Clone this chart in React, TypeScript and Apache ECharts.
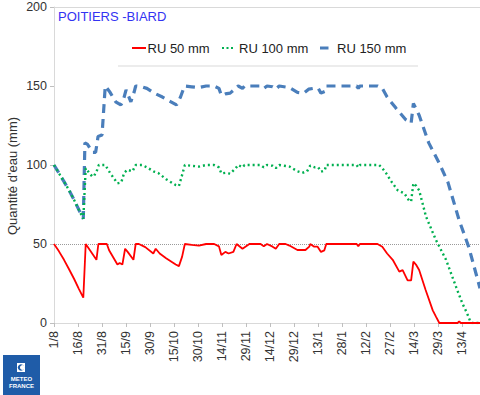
import React, { useEffect, useRef } from "react";
import * as echarts from "echarts";

const tickLabels = ["1/8","16/8","31/8","15/9","30/9","15/10","30/10","14/11","29/11","14/12","29/12","13/1","28/1","12/2","27/2","14/3","29/3","13/4"];
const seriesNames = ["RU 50 mm", "RU 100 mm", "RU 150 mm"];

const redDays = [0,3,6.25,9.4,12.5,15.6,18.3,19.8,26.5,27.7,33,34.4,39.6,41,42.7,44.4,46,49.6,51,53,57,62,63.5,66,70,76,78,80,81.7,86,90.5,95,100,103,104.5,107,109,112,114,117.7,122,129,131,133,136.5,138.5,140.6,144.6,147,152,157,159.4,160,162.5,164.6,166.7,168.8,170,189,190,191,202,205,208,211.5,215.6,217.7,220.8,223,224.4,226,228,232,236.5,238.5,240.6,252,253,254,266];
const redValues = [50,45.5,40,34,28,21.5,16,50,40,50,50,46,37,38,37,47,45,40,50,50,48,44,47,44,41,37,36,42,50,49.5,49,50,50,48.5,43,45,44,45,50,47,50,50,48.5,50,48.3,47,50,50,49,46.2,46.2,48.3,50,48.3,48.3,45,46,50,50,48.5,50,50,48.3,44,40,32.5,33.5,27,27,38.8,37,33.5,21,8,4,0,0,1,0,0];

const greenDays = [0,3,6.25,9.4,12.5,15.6,18.3,19.8,22,24,25,27,28,32,35,39.6,42,43.8,45.8,49,51,55,58,62.5,65,70,76,78,80,81.7,86,90.5,95,100,103,104.5,107,110,113.5,115,117.7,119,129,131,133,136.5,138.5,140.6,147,152,155,158,160,163,165,166.7,169,170,189,190,191,203,205,208,210,214.6,218.8,222,223,224.4,226,228,232.3,238.5,244.8,251,255,258,260,261,266];
const greenValues = [100,95,89.5,84,78,71.5,66,98,95,92.6,93,97,100,100,95,88.4,89,95,97,96,100,100,98.5,95.8,95,91,87.3,86.7,93.7,100,99.5,99,100,100,98.5,94.7,95,94.5,98,100,98.5,100,100,98.5,100,99.5,98,100,99,96,95,96,99.6,98.5,98.5,95.8,96.5,100,100,98.5,100,100,98,94,90.5,84,82,77,77,88.4,87,84,67.3,52.5,40,23,12.4,6,0.8,0,0];

const blueDays = [0,3,6.25,9.4,12.5,15.6,18.3,19.3,21,24,26,27.5,30,32,35,38.5,41.7,43,45,48,50,51,55,58,62.5,67.7,73,76.5,79,81.5,86,90.5,95,100,103,104.5,107,110,113.5,115,117.7,119,129,131,133,136.5,138.5,140.6,147,152,156,159,162,165,166.7,169,170,189,190,191,202,205,208,213.5,219.8,223,224.4,228,234,240.6,246,253,259,266];
const blueValues = [100,95,89.5,84,78,71.5,66,114,113,108,108,118,119,150,146,140,138,140,147.5,140,146,150,149.5,148.5,145.5,143,140,138,143,150,149.5,149,150,150,148.5,144,145,145.5,148.5,150,148.5,150,150,148.5,150,149.5,148,150,149,146,145.5,148,148.5,148.5,145.5,146.5,150,150,148.5,150,150,148.5,143,136,128.5,126.5,139,131.5,114,101,89,65,48,22];

const refLines = [50, 200];

function pairs(days: number[], vals: number[]) {
  return days.map((d, i) => [d, vals[i]]);
}

const FONT = "'Liberation Sans', Arial, sans-serif";
const RED = "#ff0000";
const GREEN = "#00b050";
const BLUE = "#4a7ebb";

export default function App() {
  const ref = useRef<HTMLDivElement>(null);
  useEffect(() => {
    const chart = echarts.init(ref.current!, null, { renderer: "svg" });
    const legendText = (x: number, text: string) => ({
      type: "text",
      x,
      y: 48,
      style: { text, fontSize: 13, fill: "#222", fontFamily: FONT, align: "left", verticalAlign: "middle" },
    });
    chart.setOption({
      animation: false,
      backgroundColor: "#ffffff",
      textStyle: { fontFamily: FONT },
      title: {
        text: "POITIERS -BIARD",
        left: 53,
        top: 5,
        textStyle: { color: "#3333f2", fontSize: 13, fontWeight: "normal", fontFamily: FONT },
      },
      grid: { left: 54, right: 0, top: 7, bottom: 72, containLabel: false },
      xAxis: {
        type: "value",
        min: 0,
        max: 266,
        interval: 15,
        axisLine: { show: true, lineStyle: { color: "#d9d9d9" } },
        axisTick: { show: true, length: 4, lineStyle: { color: "#bfbfbf" } },
        splitLine: { show: false },
        axisLabel: {
          rotate: 90,
          margin: 8,
          fontSize: 12.5,
          color: "#333",
          fontFamily: FONT,
          showMaxLabel: false,
          formatter: (v: number) => tickLabels[Math.round(v / 15)] ?? "",
        },
      },
      yAxis: {
        type: "value",
        min: 0,
        max: 200,
        interval: 50,
        axisLine: { show: true, lineStyle: { color: "#d9d9d9" } },
        axisTick: { show: true, length: 4, lineStyle: { color: "#bfbfbf" } },
        splitLine: { show: false },
        axisLabel: { fontSize: 12.5, color: "#333", margin: 7, fontFamily: FONT },
      },
      graphic: [
        {
          type: "text",
          x: 12,
          y: 176,
          rotation: Math.PI / 2,
          style: {
            text: "Quantité d'eau (mm)",
            fontSize: 13,
            fill: "#333",
            fontFamily: FONT,
            align: "center",
            verticalAlign: "middle",
          },
        },
        {
          type: "line",
          shape: { x1: 118, y1: 66, x2: 418, y2: 66 },
          style: { stroke: "#d9d9d9", lineWidth: 1 },
        },
        { type: "line", shape: { x1: 132, y1: 48, x2: 146, y2: 48 }, style: { stroke: RED, lineWidth: 2 } },
        legendText(147.5, seriesNames[0]),
        { type: "line", shape: { x1: 222, y1: 48, x2: 234, y2: 48 }, style: { stroke: GREEN, lineWidth: 2.2, lineDash: [2, 2.5] } },
        legendText(239, seriesNames[1]),
        { type: "line", shape: { x1: 320, y1: 48, x2: 328.5, y2: 48 }, style: { stroke: BLUE, lineWidth: 3 } },
        legendText(337, seriesNames[2]),
        {
          type: "group",
          children: [
            { type: "rect", shape: { x: 3, y: 355, width: 37, height: 42 }, style: { fill: "#1f5ca8" } },
            { type: "rect", shape: { x: 17, y: 363, width: 8, height: 9 }, style: { fill: "#ffffff" } },
            { type: "circle", shape: { cx: 21, cy: 367.5, r: 3.2 }, style: { fill: "#1f5ca8" } },
            { type: "circle", shape: { cx: 22.4, cy: 367.5, r: 2.4 }, style: { fill: "#ffffff" } },
            {
              type: "text",
              x: 21.5,
              y: 379,
              style: { text: "METEO", fontSize: 6, fontWeight: "bold", fill: "#ffffff", align: "center", verticalAlign: "middle", fontFamily: FONT },
            },
            {
              type: "text",
              x: 21.5,
              y: 385.5,
              style: { text: "FRANCE", fontSize: 6, fontWeight: "bold", fill: "#ffffff", align: "center", verticalAlign: "middle", fontFamily: FONT },
            },
          ],
        },
      ],
      series: [
        {
          name: seriesNames[2],
          type: "line",
          data: pairs(blueDays, blueValues),
          symbol: "none",
          z: 2,
          lineStyle: { color: BLUE, width: 3.2, type: [9, 6] },
          itemStyle: { color: BLUE },
          markLine: {
            silent: true,
            symbol: ["none", "none"],
            label: { show: false },
            z: 1,
            data: [
              { yAxis: refLines[0], lineStyle: { type: "dotted", color: "#9a9a9a", width: 1 } },
              { yAxis: refLines[1], lineStyle: { type: "solid", color: "#d9d9d9", width: 1 } },
            ],
          },
        },
        {
          name: seriesNames[1],
          type: "line",
          data: pairs(greenDays, greenValues),
          symbol: "none",
          z: 3,
          lineStyle: { color: GREEN, width: 2.4, type: [2, 3] },
          itemStyle: { color: GREEN },
        },
        {
          name: seriesNames[0],
          type: "line",
          data: pairs(redDays, redValues),
          symbol: "none",
          z: 4,
          lineStyle: { color: RED, width: 1.8 },
          itemStyle: { color: RED },
        },
      ],
    });
    return () => chart.dispose();
  }, []);
  return <div ref={ref} style={{ position: "absolute", left: 0, top: 0, width: 480, height: 395 }} />;
}
